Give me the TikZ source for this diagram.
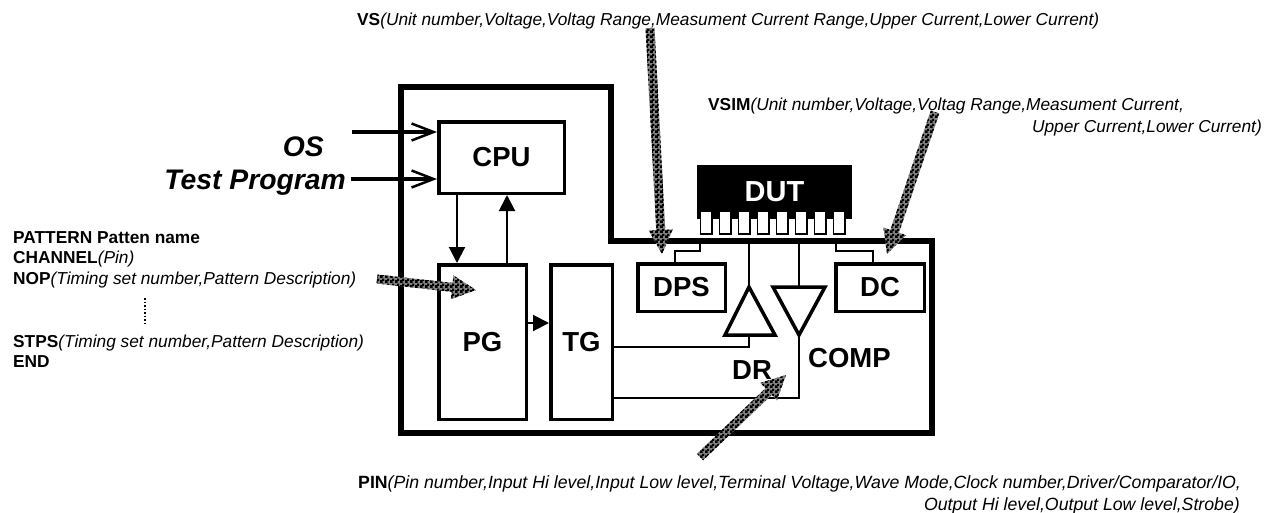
\documentclass[tikz,border=0pt]{standalone}
\usepackage{fontspec}
\setmainfont{Liberation Sans}
\usetikzlibrary{calc,patterns,arrows.meta}
\pgfdeclarepatternformonly{finecheck}{\pgfqpoint{0pt}{0pt}}{\pgfqpoint{5pt}{5pt}}{\pgfqpoint{5pt}{5pt}}{
    \pgfpathrectangle{\pgfqpoint{0pt}{0pt}}{\pgfqpoint{3.2pt}{3.2pt}}
    \pgfpathrectangle{\pgfqpoint{2.5pt}{2.5pt}}{\pgfqpoint{2.5pt}{2.5pt}}
    \pgfusepath{fill}
}
\tikzset{
    blockbox/.style={draw,line width=3.5pt,inner sep=0pt,font=\fontsize{27.5}{27.5}\bfseries\selectfont},
    wiretip/.style={-{Triangle[length=16pt,width=16pt]},line width=2pt},
    wire/.style={line width=2pt},
    feedtip/.style={-{Straight Barb[length=22pt,width=17pt,line width=2.5pt]},line width=4.5pt},
    amp/.style={draw,line width=3.5pt,miter limit=10},
    ann/.style={anchor=base west,inner sep=0pt,font=\fontsize{17.3}{17.3}\selectfont},
    annr/.style={anchor=base east,inner sep=0pt,font=\fontsize{17.3}{17.3}\selectfont},
    annw/.style={ann,font=\fontsize{17.7}{17.7}\selectfont},
    annwr/.style={annr,font=\fontsize{17.7}{17.7}\selectfont},
    bigtext/.style={anchor=base east,inner sep=0pt,font=\fontsize{28.3}{28.3}\bfseries\itshape\selectfont},
    amptext/.style={anchor=base west,inner sep=0pt,font=\fontsize{27.5}{27.5}\bfseries\selectfont}
}
\newcommand{\hatcharrow}[2]{
    \path[preaction={fill=black!50},pattern=finecheck] ($(#1)!4.5pt!90:(#2)$) -- ($(#2)!24pt!(#1)!4.5pt!-90:(#1)$)
        -- ($(#2)!24pt!(#1)!12pt!-90:(#1)$) -- (#2) -- ($(#2)!24pt!(#1)!12pt!90:(#1)$)
        -- ($(#2)!24pt!(#1)!4.5pt!90:(#1)$) -- ($(#1)!4.5pt!-90:(#2)$) -- cycle;
}
\begin{document}
\begin{tikzpicture}[x=1pt,y=-1pt]
    \useasboundingbox (0,0) rectangle (1276,512);
    % outer frame
    \draw[line width=6pt,miter limit=10] (398,433) -- (932,433) -- (932,241) -- (611,241) -- (611,87) -- (401,87) -- (401,433);
    % blocks
    \node[blockbox,minimum width=125.5pt,minimum height=71.5pt] (CPU) at (501.5,157.5) {CPU};
    \node[blockbox,minimum width=87.5pt,minimum height=154.5pt] (PG) at (482.5,342) {PG};
    \node[blockbox,minimum width=61.5pt,minimum height=154.5pt] (TG) at (581.5,342) {TG};
    \node[blockbox,minimum width=87.5pt,minimum height=47.5pt] (DPS) at (681.5,287.5) {DPS};
    \node[blockbox,minimum width=88.5pt,minimum height=47.5pt] (DC) at (880,287.5) {DC};
    % DUT
    \node[fill=black,text=white,inner sep=0pt,minimum width=155pt,minimum height=54pt,font=\fontsize{29}{29}\bfseries\selectfont] (DUT) at (774.5,192) {DUT};
    \foreach \i in {0,...,7} {
        \draw[fill=white,line width=1.5pt] ({700.5+19*\i},211) rectangle ({712+19*\i},234);
    }
    % amplifiers
    \coordinate (DRtop) at (749,287);
    \coordinate (DRleft) at (725,335);
    \coordinate (DRright) at (775,335);
    \coordinate (DRbot) at (749,335);
    \coordinate (COMPbot) at (799,335);
    \coordinate (COMPleft) at (773,287);
    \coordinate (COMPright) at (825,287);
    \coordinate (COMPtop) at (799,287);
    \draw[amp] (DRtop) -- (DRright) -- (DRleft) -- cycle;
    \draw[amp] (COMPbot) -- (COMPright) -- (COMPleft) -- cycle;
    % wires
    \coordinate (busA) at (700,241);
    \coordinate (busB) at (749,241);
    \coordinate (busC) at (799,241);
    \coordinate (busD) at (836,241);
    \draw[wire] (busA) -- (700,251) -| (DPS.north -| 675,0);
    \draw[wire] (busD) -- (836,251) -| (DC.north -| 873,0);
    \draw[wire] (busB) -- (DRtop);
    \draw[wire] (busC) -- (COMPtop);
    \draw[wire] (DRbot) -- (749,347) -- (TG.east |- 0,347);
    \draw[wire] (COMPbot) -- (799,398) -- (TG.east |- 0,398);
    \draw[wiretip] (CPU.south -| 457,0) -- (PG.north -| 457,0);
    \draw[wiretip] (PG.north -| 507,0) -- (CPU.south -| 507,0);
    \draw[wiretip] (PG.east |- 0,323) -- (TG.west |- 0,323);
    % inputs
    \node[bigtext] (OS) at (324,156) {OS};
    \node[bigtext] (Prog) at (346,189) {Test Program};
    \coordinate (OSin) at (352,132);
    \draw[feedtip] (OSin) -- (CPU.west |- OSin);
    \draw[feedtip] (Prog.east |- 0,179) ++(5,0) -- (CPU.west |- 0,179);
    \node[amptext] (DR) at (732,379) {DR};
    \node[amptext] (COMP) at (808,367) {COMP};
    % pattern listing
    \node[ann] (l1) at (13,243) {\bfseries PATTERN Patten name};
    \node[ann] (l2) at (13,263) {\textbf{CHANNEL}\textit{(Pin)}};
    \node[ann] (l3) at (13,284) {\textbf{NOP}\textit{(Timing set number,Pattern Description)}};
    \node[ann] (l4) at (13,347) {\textbf{STPS}\textit{(Timing set number,Pattern Description)}};
    \node[ann] (l5) at (13,367) {\bfseries END};
    \draw[line width=1.5pt,dotted] (145,298) -- (145,323);
    % commands
    \node[ann] (VS) at (357,25) {\textbf{VS}\textit{(Unit number,Voltage,Voltag Range,Measument Current Range,Upper Current,Lower Current)}};
    \node[ann] (VSIM) at (708,110) {\textbf{VSIM}\textit{(Unit number,Voltage,Voltag Range,Measument Current,}};
    \node[annr] (VSIMb) at (1262,132) {\textit{Upper Current,Lower Current)}};
    \node[annw] (PIN) at (358,488) {\textbf{PIN}\textit{(Pin number,Input Hi level,Input Low level,Terminal Voltage,Wave Mode,Clock number,Driver/Comparator/IO,}};
    \node[annwr] (PINb) at (1240,510) {\textit{Output Hi level,Output Low level,Strobe)}};
    % hatched arrows
    \coordinate (VStail) at (650,28);
    \coordinate (VStip) at (662,254);
    \coordinate (VSIMtail) at (935,112);
    \coordinate (VSIMtip) at (887,254);
    \coordinate (PGtail) at (377,279);
    \coordinate (PGtip) at (476,290);
    \coordinate (PINtail) at (700,457);
    \coordinate (PINtip) at (786,375);
    \hatcharrow{VStail}{VStip}
    \hatcharrow{VSIMtail}{VSIMtip}
    \hatcharrow{PGtail}{PGtip}
    \hatcharrow{PINtail}{PINtip}
\end{tikzpicture}
\end{document}
